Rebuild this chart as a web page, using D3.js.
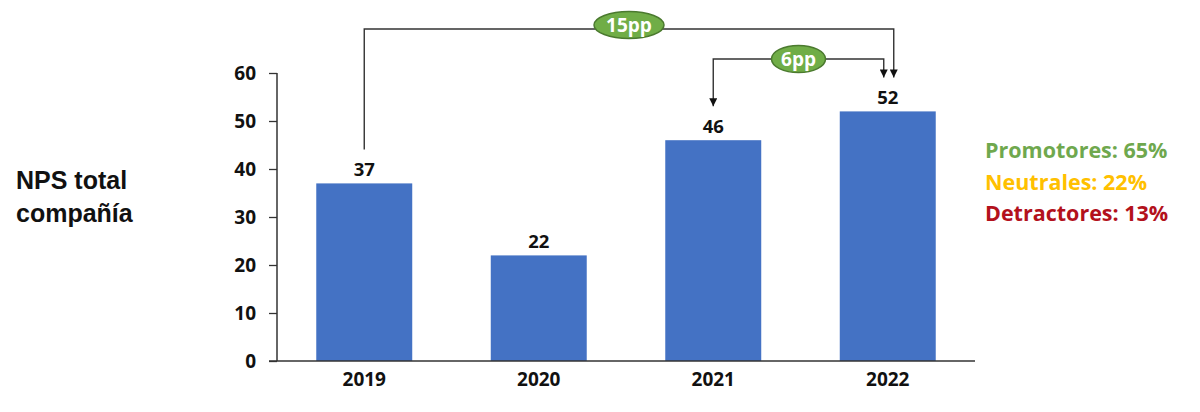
<!DOCTYPE html>
<html>
<head>
<meta charset="utf-8">
<script src="https://cdn.jsdelivr.net/npm/d3@7"></script>
<style>
  body { margin: 0; background: #fff; }
  text { font-family: "Open Sans", sans-serif; }
</style>
</head>
<body>
<div id="viz"></div>
<script>
// data
var years = ["2019", "2020", "2021", "2022"];
var npsValues = [37, 22, 46, 52];
var yTicks = [0, 10, 20, 30, 40, 50, 60];
var legendLabels = ["Promotores: 65%", "Neutrales: 22%", "Detractores: 13%"];
var legendColors = ["#6fa84e", "#ffc000", "#b3111c"];
// comparisons: from year, to year, label
var diffs = [
  { from: "2019", to: "2022", label: "15pp" },
  { from: "2021", to: "2022", label: "6pp" }
];

var W = 1200, H = 412;
var margin = { top: 73, left: 277, right: 225, bottom: 51 };
var width = W - margin.left - margin.right,
  height = H - margin.top - margin.bottom;

var svg = d3.select("#viz").append("svg")
  .attr("width", W)
  .attr("height", H);

var g = svg.append("g")
  .attr("transform", "translate(" + margin.left + "," + margin.top + ")");

// scales
var x = d3.scaleBand().domain(years).range([0, width])
  .paddingInner(0.45).paddingOuter(0.225);
var y = d3.scaleLinear().domain([0, 60]).range([height, 0]);

// bars
g.selectAll(".bar")
  .data(npsValues)
  .enter().append("rect")
  .attr("class", "bar")
  .attr("x", function (d, i) { return x(years[i]); })
  .attr("y", function (d) { return y(d); })
  .attr("width", x.bandwidth())
  .attr("height", function (d) { return height - y(d); })
  .attr("fill", "#4472c4");

// value labels
g.selectAll(".val")
  .data(npsValues)
  .enter().append("text")
  .attr("class", "val")
  .attr("x", function (d, i) { return x(years[i]) + x.bandwidth() / 2; })
  .attr("y", function (d) { return y(d) - 7.5; })
  .attr("text-anchor", "middle")
  .attr("font-size", 18.5)
  .attr("font-weight", "bold")
  .attr("fill", "#111")
  .text(function (d) { return d; });

// y axis
var yAxis = g.append("g")
  .call(d3.axisLeft(y).tickValues(yTicks).tickSize(8).tickPadding(13));
yAxis.select(".domain").attr("stroke", "#333").attr("stroke-width", 1.5)
  .attr("d", "M0," + height + "V0");
yAxis.selectAll(".tick line").attr("stroke", "#333").attr("stroke-width", 1.3);
yAxis.selectAll(".tick text")
  .attr("font-size", 19).attr("font-weight", "bold").attr("fill", "#111")
  .style("font-family", "'Open Sans', sans-serif");

// x axis
var xAxis = g.append("g")
  .attr("transform", "translate(0," + height + ")")
  .call(d3.axisBottom(x).tickSize(0).tickPadding(12));
xAxis.select(".domain").attr("stroke", "#333").attr("stroke-width", 1.5)
  .attr("d", "M-8,0H" + width);
xAxis.selectAll(".tick text")
  .attr("font-size", 19).attr("font-weight", "bold").attr("fill", "#111")
  .style("font-family", "'Open Sans', sans-serif");

// arrow marker
svg.append("defs").append("marker")
  .attr("id", "arrow")
  .attr("viewBox", "0 0 10 10")
  .attr("refX", 10).attr("refY", 5)
  .attr("markerWidth", 9).attr("markerHeight", 8)
  .attr("markerUnits", "userSpaceOnUse")
  .attr("orient", "auto")
  .append("path")
  .attr("d", "M0,0L10,5L0,10Z")
  .attr("fill", "#111");

// difference brackets
var cx = function (yr) { return x(yr) + x.bandwidth() / 2; };
var valOf = function (yr) { return npsValues[years.indexOf(yr)]; };

var bracketY = [-44, -14];       // horizontal level of each bracket (chart coords)
var toOffset = [6, -4];          // arrows into the 2022 bar sit side by side
var bubbleLift = [4, 0];

diffs.forEach(function (d, i) {
  var x1 = cx(d.from), x2 = cx(d.to) + toOffset[i];
  var yy = bracketY[i];
  var endFrom = y(valOf(d.from)) - 34;
  var endTo = y(valOf(d.to)) - 34;
  var bx = (x1 + x2) / 2;

  var left = g.append("path")
    .attr("d", "M" + bx + "," + yy + "H" + x1 + "V" + endFrom)
    .attr("fill", "none").attr("stroke", "#333").attr("stroke-width", 1.4);
  if (i === 1) left.attr("marker-end", "url(#arrow)");

  g.append("path")
    .attr("d", "M" + bx + "," + yy + "H" + x2 + "V" + endTo)
    .attr("fill", "none").attr("stroke", "#333").attr("stroke-width", 1.4)
    .attr("marker-end", "url(#arrow)");

  var rx = i === 0 ? 35 : 27;
  g.append("ellipse")
    .attr("cx", bx).attr("cy", yy - bubbleLift[i])
    .attr("rx", rx).attr("ry", 13.5)
    .attr("fill", "#70ad47")
    .attr("stroke", "#4b7a2f").attr("stroke-width", 1.5);
  g.append("text")
    .attr("x", bx).attr("y", yy - bubbleLift[i] + 7)
    .attr("text-anchor", "middle")
    .attr("font-size", 19).attr("font-weight", "bold")
    .attr("fill", "#fff")
    .text(d.label);
});

// left title
var title = svg.append("text")
  .attr("x", 16).attr("y", 189)
  .attr("font-size", 25).attr("font-weight", "bold").attr("fill", "#111")
  .style("font-family", "'Liberation Sans', Arial, sans-serif");
title.append("tspan").attr("x", 16).attr("dy", 0).text("NPS total");
title.append("tspan").attr("x", 16).attr("dy", 33).text("compañía");

// legend on the right
svg.selectAll(".legend")
  .data(legendLabels)
  .enter().append("text")
  .attr("class", "legend")
  .attr("x", 985)
  .attr("y", function (d, i) { return 158 + i * 31.5; })
  .attr("font-size", 21.5).attr("font-weight", "bold")
  .attr("fill", function (d, i) { return legendColors[i]; })
  .text(function (d) { return d; });
</script>
</body>
</html>
